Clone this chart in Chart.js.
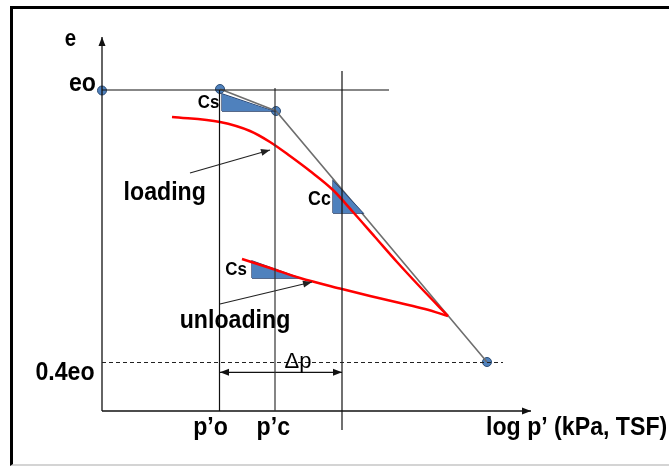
<!DOCTYPE html>
<html>
<head>
<meta charset="utf-8">
<script src="https://cdn.jsdelivr.net/npm/chart.js@4"></script>
<style>
  body{margin:0;background:#fff;}
  #wrap{position:relative;width:669px;height:466px;}
  #frame{position:absolute;left:10px;top:6px;width:659px;height:455px;border-left:3px solid #000;border-top:3px solid #000;border-bottom:2px solid #d4d4d4;}
  canvas{position:absolute;left:0;top:0;}
</style>
</head>
<body>
<div id="wrap"><div id="frame"></div><canvas id="c" width="669" height="466"></canvas></div>
<script>
// e - log p' schema (coord: origine = coin des axes)
const axeY=[[0,0],[0,374]]
const axeX=[[0,0],[429,0]]
const ligneEo=[[0,321],[287,321]]
const ligne04eo=[[0,48.5],[401,48.5]]
const vertPo=[[117.5,0],[117.5,321]]
const vertPc=[[173,0],[173,323]]
const vertDp=[[240,-19],[240,340]]
const flecheDp=[[118,38.7],[240,38.7]]
const droiteGrise=[[118,322],[174,300],[385,49]]
const points=[[0,320.5],[118,322],[174,300],[385,49]]
// triangles : contour ferme, hypotenuse remplie jusqu'a la base
const triCsHaut=[[120,300],[120,317],[171,300],[120,300]]
const triCc=[[231,198],[231,230],[261,198],[231,198]]
const triCsBas=[[150,133],[150,150],[198,133],[150,133]]
const courbeChargement=[[70,294],[118,289],[148,280],[168,269],[188,255],[208,240],[231,221],[251,199],[273,174],[295,149],[320,122],[346,95]]
const courbeDechargement=[[140,152],[168,143],[198,133],[240,122],[268,115],[298,108],[323,102],[346,95]]
const flecheLoading=[[88,238],[168,261]]
const flecheUnloading=[[118,107],[210,129]]

// textes [texte, x, y(ligne de base), align, taille, gras, echelleX]
const textes=[
  ["e",-31.5,365.5,"center",23,true,0.89],
  ["eo",-6,320.5,"right",26,true,0.89],
  ["0.4eo",-37,31,"center",26,true,0.89],
  ["Cs",106.5,302.7,"center",19,true,0.89],
  ["Cc",217.5,206,"center",20,true,0.89],
  ["Cs",134,136,"center",19,true,0.89],
  ["loading",62.7,211,"center",26,true,0.89],
  ["unloading",133,83,"center",26,true,0.89],
  ["\u0394p",196,43,"center",22,false,1],
  ["p\u2019o",108.5,-24,"center",26,true,0.89],
  ["p\u2019c",171.3,-24,"center",26,true,0.89],
  ["log p\u2019 (kPa, TSF)",384,-24,"left",26,true,0.89]
]

function pts(a){return a.map(p=>({x:p[0],y:p[1]}))}

function ligne(a,couleur,larg,extra){
  return Object.assign({data:pts(a),showLine:true,borderColor:couleur,borderWidth:larg,pointRadius:0,fill:false,tension:0},extra||{})
}

function remplissage(tri){ //hypotenuse -> base
  return ligne([tri[1],tri[2]],"rgba(0,0,0,0)",0,{fill:{value:tri[0][1]},backgroundColor:"#4f81bd"})
}

var datasets=[
  ligne(ligneEo,"#111",1.2),
  ligne(ligne04eo,"#222",1.2,{borderDash:[4,3]}),
  ligne(vertPo,"#111",1.2),
  ligne(vertPc,"#333",1.2),
  ligne(vertDp,"#111",1.2),
  ligne(axeY,"#111",1.3,{fleche:"fin"}),
  ligne(axeX,"#111",1.3,{fleche:"fin"}),
  ligne(flecheDp,"#111",1.3,{fleche:"deux"}),
  ligne(flecheLoading,"#222",1.2,{fleche:"fin"}),
  ligne(flecheUnloading,"#222",1.2,{fleche:"fin"}),
  ligne(courbeChargement,"#ff0000",2.5,{cubicInterpolationMode:"monotone"}),
  ligne(courbeDechargement,"#ff0000",2.5,{cubicInterpolationMode:"monotone"}),
  remplissage(triCsHaut),
  remplissage(triCc),
  remplissage(triCsBas),
  ligne(triCsHaut,"#1f3864",1.3),
  ligne(triCc,"#1f3864",1.3),
  ligne(triCsBas,"#1f3864",1.3),
  ligne(droiteGrise,"#6e6e6e",1.6),
  {data:pts(points),showLine:false,pointRadius:4.5,pointBackgroundColor:"#4f81bd",pointBorderColor:"#2c4d75",pointBorderWidth:1}
]

function pointe(ctx,x1,y1,x2,y2,L,W){
  var a=Math.atan2(y2-y1,x2-x1)
  ctx.beginPath()
  ctx.moveTo(x2,y2)
  ctx.lineTo(x2-L*Math.cos(a)+W*Math.sin(a),y2-L*Math.sin(a)-W*Math.cos(a))
  ctx.lineTo(x2-L*Math.cos(a)-W*Math.sin(a),y2-L*Math.sin(a)+W*Math.cos(a))
  ctx.closePath()
  ctx.fill()
}

const pluginDessin={
  id:"dessin",
  afterDatasetsDraw(chart){
    var ctx=chart.ctx
    var sx=chart.scales.x, sy=chart.scales.y
    ctx.save()
    chart.data.datasets.forEach(function(ds,i){
      if(!ds.fleche) return
      var m=chart.getDatasetMeta(i).data
      var a=m[m.length-2], b=m[m.length-1]
      ctx.fillStyle=ds.borderColor
      pointe(ctx,a.x,a.y,b.x,b.y,9,3.5)
      if(ds.fleche=="deux") pointe(ctx,b.x,b.y,m[0].x,m[0].y,9,3.5)
    })
    ctx.fillStyle="#000"
    ctx.textBaseline="alphabetic"
    textes.forEach(function(t){
      ctx.save()
      ctx.translate(sx.getPixelForValue(t[1]),sy.getPixelForValue(t[2]))
      ctx.scale(t[6],1)
      ctx.font=(t[5]?"bold ":"")+t[4]+"px 'Liberation Sans'"
      ctx.textAlign=t[3]
      ctx.fillText(t[0],0,0)
      ctx.restore()
    })
    ctx.restore()
  }
}

var chart=new Chart(document.getElementById("c"),{
  type:"scatter",
  data:{datasets:datasets},
  options:{
    responsive:false,
    animation:false,
    layout:{padding:0,autoPadding:false},
    plugins:{legend:{display:false},tooltip:{enabled:false}},
    scales:{
      x:{type:"linear",min:-102,max:567,display:false},
      y:{type:"linear",min:-55,max:411,display:false}
    }
  },
  plugins:[pluginDessin]
})
</script>
</body>
</html>
